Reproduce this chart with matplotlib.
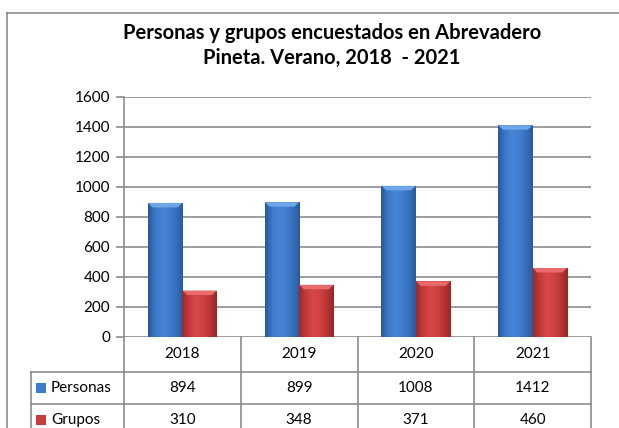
import numpy as np
import matplotlib
matplotlib.use('Agg')
import matplotlib.pyplot as plt
from matplotlib.lines import Line2D
from matplotlib.patches import Polygon, Rectangle
from matplotlib.colors import LinearSegmentedColormap

# data
years = ['2018', '2019', '2020', '2021']
personas = [894, 899, 1008, 1412]
grupos = [310, 348, 371, 460]
series_names = ['Personas', 'Grupos']
yticks = [0, 200, 400, 600, 800, 1000, 1200, 1400, 1600]

plt.rcParams['font.family'] = ['Lato', 'DejaVu Sans']

W, H = 619, 428
fig = plt.figure(figsize=(W / 100, H / 100), dpi=100)
fig.patch.set_facecolor('white')


def fx(px):
    return px / W


def fy(py):
    return 1 - py / H


grid_col = '#8c8c8c'

# outer chart frame
fig.add_artist(Line2D([fx(7), fx(7)], [fy(13), 0], color='#8c8c8c', lw=1.2))
fig.add_artist(Line2D([fx(7), 1], [fy(13), fy(13)], color='#8c8c8c', lw=1.2))

fig.text(fx(332), fy(33), 'Personas y grupos encuestados en Abrevadero',
         ha='center', va='center', fontsize=14.5, fontweight='bold')
fig.text(fx(332), fy(58), 'Pineta. Verano, 2018  - 2021',
         ha='center', va='center', fontsize=14.5, fontweight='bold')

left, right, top, bottom = 124, 591, 97, 337
ax = fig.add_axes([fx(left), fy(bottom), fx(right - left), (bottom - top) / H])
ax.set_xlim(-0.5, 3.5)
ax.set_ylim(0, 1600)
ax.set_yticks(yticks)
ax.set_xticks([])
for s in ['top', 'right', 'bottom']:
    ax.spines[s].set_visible(False)
ax.spines['left'].set_color(grid_col)
ax.spines['left'].set_linewidth(1.2)
ax.tick_params(axis='y', length=6, width=1.2, color=grid_col, labelsize=11, pad=4)
ax.yaxis.grid(True, color=grid_col, lw=1.2)
ax.set_axisbelow(True)

blue_cmap = LinearSegmentedColormap.from_list(
    'b', ['#2b5799', '#3b78c8', '#4685d6', '#427fd0', '#3670bd', '#2b5a9c'])
red_cmap = LinearSegmentedColormap.from_list(
    'r', ['#9a2a2a', '#c43a3a', '#d84848', '#d04242', '#ba3535', '#962828'])
top_cols = ['#6ea6ec', '#e86a6a']

x = np.arange(len(years))
bw = 0.295
grad = np.linspace(0, 1, 64).reshape(1, -1)


def cyl_bars(xpos, vals, cmap, topc):
    bars = ax.bar(xpos, vals, width=bw, color='none', edgecolor='none', zorder=3)
    for b in bars:
        x0, w, h = b.get_x(), b.get_width(), b.get_height()
        im = ax.imshow(grad, cmap=cmap, aspect='auto', extent=[x0, x0 + w, 0, h],
                       zorder=3, interpolation='bicubic')
        im.set_clip_path(b)
        ins = w * 0.14
        bev = 30
        ax.add_patch(Polygon([[x0, h], [x0 + w, h], [x0 + w - ins, h - bev],
                              [x0 + ins, h - bev]], closed=True,
                             facecolor=topc, edgecolor='none', zorder=4))
    return bars


cyl_bars(x - bw / 2, personas, blue_cmap, top_cols[0])
cyl_bars(x + bw / 2, grupos, red_cmap, top_cols[1])
ax.set_xlim(-0.5, 3.5)
ax.set_ylim(0, 1600)

# data table below the axis
tr = ax.get_xaxis_transform()
ppu = (bottom - top)
r1 = -(372 - bottom) / ppu
r2 = -(404 - bottom) / ppu
r3 = -(440 - bottom) / ppu
xl = -0.5 - (left - 31) / ((right - left) / 4)
lk = dict(color=grid_col, lw=1.2, transform=tr, clip_on=False)
for xv in [-0.5, 0.5, 1.5, 2.5, 3.5]:
    ax.plot([xv, xv], [0, r3], **lk)
ax.plot([xl, xl], [r1, r3], **lk)
ax.plot([xl, 3.5], [r1, r1], **lk)
ax.plot([xl, 3.5], [r2, r2], **lk)

for i, yr in enumerate(years):
    ax.text(i, r1 / 2, yr, ha='center', va='center', fontsize=11, transform=tr)
    ax.text(i, (r1 + r2) / 2, str(personas[i]), ha='center', va='center',
            fontsize=11, transform=tr)
    ax.text(i, (r2 + r3) / 2 + 0.01, str(grupos[i]), ha='center', va='center',
            fontsize=11, transform=tr)

sq_cols = ['#3f7bcc', '#c83c3c']
for k, (name, yc) in enumerate(zip(series_names, [(r1 + r2) / 2, (r2 + r3) / 2 + 0.01])):
    fig.add_artist(Rectangle((fx(36), fy(bottom) + yc * (bottom - top) / H - 5 / H),
                             10 / W, 10 / H, facecolor=sq_cols[k], edgecolor='none'))
    ax.text(xl + 20 / ((right - left) / 4), yc, name, ha='left', va='center',
            fontsize=11, transform=tr)

fig.savefig('out.png', dpi=100)
